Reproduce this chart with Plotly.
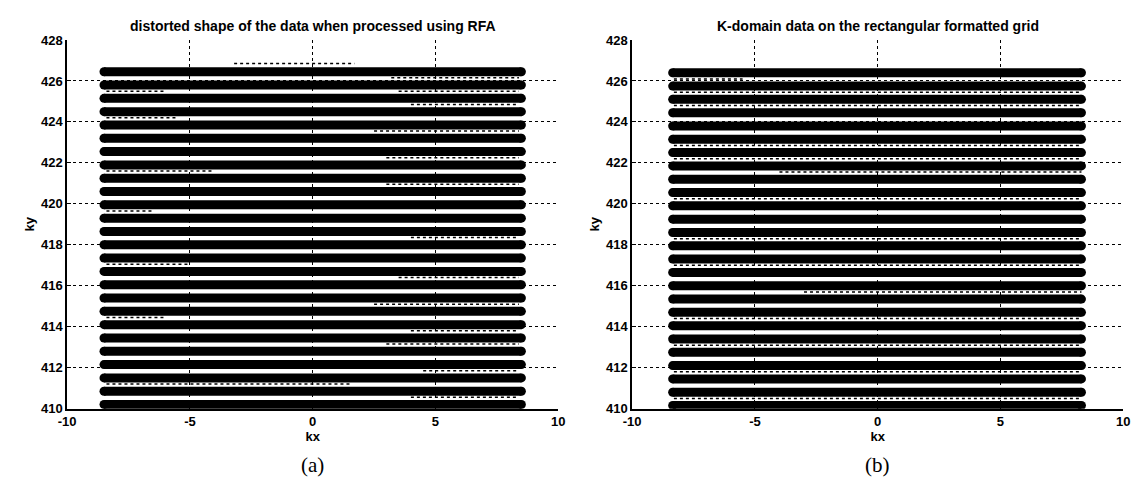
import plotly.graph_objects as go

# k-space sample rows (ky of each row) and the kx extent each row covers
ky_rows_rfa = [426.45, 425.8, 425.15, 424.5, 423.85, 423.2, 422.55, 421.9, 421.25,
               420.6, 419.95, 419.3, 418.65, 418.0, 417.35, 416.7, 416.05, 415.4,
               414.75, 414.1, 413.45, 412.8, 412.15, 411.5, 410.85, 410.2]
kx_span_rfa = [-8.5, 8.5]

ky_rows_grid = [426.4, 425.75, 425.1, 424.45, 423.8, 423.15, 422.5, 421.85, 421.2,
                420.55, 419.9, 419.25, 418.6, 417.95, 417.3, 416.65, 416.0, 415.35,
                414.7, 414.05, 413.4, 412.75, 412.1, 411.45, 410.8, 410.15]
kx_span_grid = [-8.35, 8.3]

# sparse off-row samples: (ky, kx start, kx end)
sparse_rfa = [(426.85, -3.2, 1.7), (426.15, 3.2, 8.4), (425.5, -8.4, -6.0),
              (425.5, 3.5, 8.4), (424.85, 4.0, 8.4), (424.2, -8.4, -5.5),
              (423.55, 2.5, 8.4), (422.25, 3.0, 8.4), (421.6, -8.4, -4.0),
              (420.95, 3.0, 8.4), (419.65, -8.4, -6.5), (418.35, 4.0, 8.4),
              (417.05, -8.4, -5.0), (416.4, 3.5, 8.4), (415.1, 2.5, 8.4),
              (414.45, -8.4, -6.0), (413.8, 4.0, 8.4), (413.15, 3.0, 8.4),
              (411.85, 4.5, 8.4), (411.2, -8.4, 1.5), (410.55, 4.0, 8.4)]
sparse_grid = [(426.1, -8.3, -5.5), (425.45, -8.3, 8.3), (424.8, -8.3, 8.3),
               (422.85, -8.3, 8.3), (422.2, -8.3, 8.3), (421.55, -4.0, 8.3),
               (420.25, -8.3, 8.3), (418.3, -8.3, 8.3), (417.0, -8.3, 8.3),
               (415.7, -3.0, 8.3), (414.4, -8.3, 8.3), (413.1, -8.3, 8.3),
               (411.8, -8.3, 8.3), (410.5, -8.3, 8.3)]

x_ticks = [-10, -5, 0, 5, 10]
x_tick_text = ["-10", "-5", "0", "5", "10"]
y_ticks = [410, 412, 414, 416, 418, 420, 422, 424, 426, 428]

titles = ["distorted shape of the data when processed using RFA",
          "K-domain data on the rectangular formatted grid"]
panel_tags = ["(a)", "(b)"]

W, H = 1143, 502
dom_x = [[59 / W, 557 / W], [632 / W, 1130 / W]]
dom_y = [1 - 414 / H, 1 - 34 / H]

fig = go.Figure()

panels = [(ky_rows_rfa, kx_span_rfa, sparse_rfa), (ky_rows_grid, kx_span_grid, sparse_grid)]
for i, (rows, span, sparse) in enumerate(panels):
    xa = "x" if i == 0 else "x2"
    ya = "y" if i == 0 else "y2"
    for ky, x0, x1 in sparse:
        fig.add_trace(go.Scatter(
            x=[x0, x1], y=[ky, ky], xaxis=xa, yaxis=ya, mode="lines",
            line=dict(color="black", width=1.5, dash="dot"),
            showlegend=False, hoverinfo="skip"))
    for ky in rows:
        fig.add_trace(go.Scatter(
            x=span, y=[ky, ky], xaxis=xa, yaxis=ya, mode="lines+markers",
            line=dict(color="black", width=9),
            marker=dict(color="black", size=9),
            showlegend=False, hoverinfo="skip"))

tick_font = dict(family="Liberation Sans, Arial", size=13, color="black", weight="bold")
axis_common = dict(
    showgrid=True, gridcolor="black", gridwidth=1, griddash="dot",
    zeroline=False, showline=True, linecolor="black", linewidth=1.5,
    ticks="inside", ticklen=4, tickcolor="black", tickfont=tick_font,
    mirror=False)

for i in range(2):
    sfx = "" if i == 0 else "2"
    fig.update_layout(**{
        f"xaxis{sfx}": dict(axis_common, domain=dom_x[i], range=[-10, 10],
                            tickvals=x_ticks, ticktext=x_tick_text, anchor=f"y{sfx}",
                            title=dict(text="kx", font=tick_font, standoff=2)),
        f"yaxis{sfx}": dict(axis_common, domain=dom_y, range=[410, 428],
                            tickvals=y_ticks, anchor=f"x{sfx}",
                            title=dict(text="ky", font=tick_font, standoff=4)),
    })
    cx = (dom_x[i][0] + dom_x[i][1]) / 2
    fig.add_annotation(text=titles[i], x=cx, y=1 - 20 / H, xref="paper", yref="paper",
                       xanchor="center", yanchor="middle", showarrow=False,
                       font=dict(family="Liberation Sans, Arial", size=14,
                                 color="black", weight="bold"))
    fig.add_annotation(text=panel_tags[i], x=cx, y=1 - 472 / H, xref="paper",
                       yref="paper", xanchor="center", yanchor="middle", showarrow=False,
                       font=dict(family="Liberation Serif, Times New Roman", size=21,
                                 color="black"))

fig.update_layout(width=W, height=H, margin=dict(l=0, r=0, t=0, b=0),
                  plot_bgcolor="white", paper_bgcolor="white")

fig.write_html("out.html")
